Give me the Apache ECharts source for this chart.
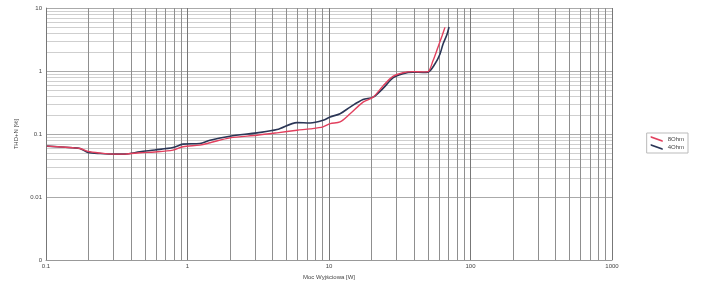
<!DOCTYPE html>
<html><head><meta charset="utf-8">
<script src="https://cdn.jsdelivr.net/npm/echarts@6/dist/echarts.min.js"></script>
<style>html,body{margin:0;padding:0;background:#fff}#c{width:705px;height:285px}</style>
</head><body><div id="c"></div>
<script>
const seriesNames = ['8Ohm', '4Ohm'];
const powerRed = [0.1016,0.155,0.174,0.198,0.241,0.308,0.362,0.461,0.589,0.790,0.929,1.225,1.442,1.995,3.10,4.29,5.94,7.35,9.08,10.2,11.97,14.1,17.4,20.5,24.1,28.3,33.3,39.2,46.2,50.1,54.3,58.9,62.9,66.0];
const thdRed   = [0.0643,0.0606,0.059,0.053,0.050,0.0481,0.0481,0.0506,0.052,0.0556,0.0629,0.0667,0.0727,0.0871,0.0958,0.1045,0.1148,0.1208,0.130,0.146,0.156,0.21,0.321,0.385,0.58,0.82,0.94,0.98,0.97,0.98,1.45,2.39,3.6,4.93];
const powerBlue = [0.1016,0.155,0.174,0.198,0.241,0.308,0.362,0.461,0.589,0.790,0.929,1.225,1.442,1.995,3.10,4.29,5.94,7.35,9.08,10.2,11.97,14.1,17.4,20.5,24.1,28.3,33.3,39.2,46.2,50.1,56.0,60.8,63.9,68.3,70.5];
const thdBlue   = [0.0643,0.0606,0.0591,0.0511,0.049,0.0481,0.0481,0.0524,0.056,0.0613,0.0691,0.0709,0.0798,0.0923,0.1045,0.1178,0.152,0.150,0.165,0.187,0.210,0.268,0.353,0.385,0.53,0.78,0.91,0.96,0.95,0.96,1.29,1.85,2.66,3.83,4.99];
const xTickLabels = ['0.1','1','10','100','1000'];
const yTickLabels = ['0','0.01','0.1','1','10'];

const vGrid = [], hGrid = [];
[0.1,1,10,100].forEach(d => { for (let k=1;k<10;k++) vGrid.push(+(d*k).toPrecision(3)); });
vGrid.push(1000);
[0.001,0.01,0.1,1].forEach(d => { for (let k=1;k<10;k++) hGrid.push(+(d*k).toPrecision(3)); });
hGrid.push(10);
const isMajor = v => Math.abs(Math.log10(v) - Math.round(Math.log10(v))) < 1e-6;

const chart = echarts.init(document.getElementById('c'), null, {renderer:'canvas'});
chart.setOption({
  animation:false,
  grid:{left:46,right:93,top:8,bottom:23,containLabel:false},
  legend:{
    right:17, top:133, orient:'vertical', itemWidth:12, itemHeight:6, itemGap:2,
    padding:[3,4,3,4], borderColor:'#bbb', borderWidth:1,
    textStyle:{fontSize:6, color:'#444', fontFamily:'Liberation Sans'},
    data:[
      {name:seriesNames[0], icon:'path://M0,0L20,7L20,10L0,3Z'},
      {name:seriesNames[1], icon:'path://M0,0L20,7L20,10L0,3Z'}
    ]
  },
  xAxis:{
    type:'log', logBase:10, min:0.1, max:1000,
    name:'Moc Wyjściowa [W]', nameLocation:'middle', nameGap:8,
    nameTextStyle:{fontSize:6, color:'#444', fontFamily:'Liberation Sans'},
    axisLine:{show:true, lineStyle:{color:'#999'}},
    axisTick:{show:false}, splitLine:{show:false},
    axisLabel:{fontSize:6, color:'#444', margin:3, fontFamily:'Liberation Sans',
      formatter:(v)=>{const e=Math.round(Math.log10(v)); return xTickLabels[e+1] ?? '';}}
  },
  yAxis:{
    type:'log', logBase:10, min:0.001, max:10,
    name:'THD+N [%]', nameLocation:'middle', nameGap:26, nameRotate:90,
    nameTextStyle:{fontSize:6, color:'#444', fontFamily:'Liberation Sans'},
    axisLine:{show:true, lineStyle:{color:'#999'}},
    axisTick:{show:false}, splitLine:{show:false},
    axisLabel:{fontSize:6, color:'#444', margin:4, fontFamily:'Liberation Sans',
      formatter:(v)=>{const e=Math.round(Math.log10(v)); return yTickLabels[e+3] ?? '';}}
  },
  series:[
    {
      name:'grid', type:'line', data:[], silent:true, legendHoverLink:false, z:1, zlevel:0,
      markLine:{
        silent:true, symbol:['none','none'], animation:false, z:1,
        label:{show:false},
        data:[
          ...hGrid.map(v=>({yAxis:v, lineStyle:{color:isMajor(v)?'#aaa':'#cfcfcf', width:1, type:'solid'}})),
          ...vGrid.map(v=>({xAxis:v, lineStyle:{color:isMajor(v)?'#777':'#8f8f8f', width:1, type:'solid'}}))
        ]
      }
    },
    {
      name:seriesNames[1], type:'line', showSymbol:false, smooth:0.3, z:5, zlevel:1,
      data:powerBlue.map((p,i)=>[p,thdBlue[i]]),
      lineStyle:{color:'#2b3656', width:1.6}, itemStyle:{color:'#2b3656'}
    },
    {
      name:seriesNames[0], type:'line', showSymbol:false, smooth:0.3, z:6, zlevel:1,
      data:powerRed.map((p,i)=>[p,thdRed[i]]),
      lineStyle:{color:'#e2405e', width:1.4}, itemStyle:{color:'#e2405e'}
    }
  ]
});
</script></body></html>
